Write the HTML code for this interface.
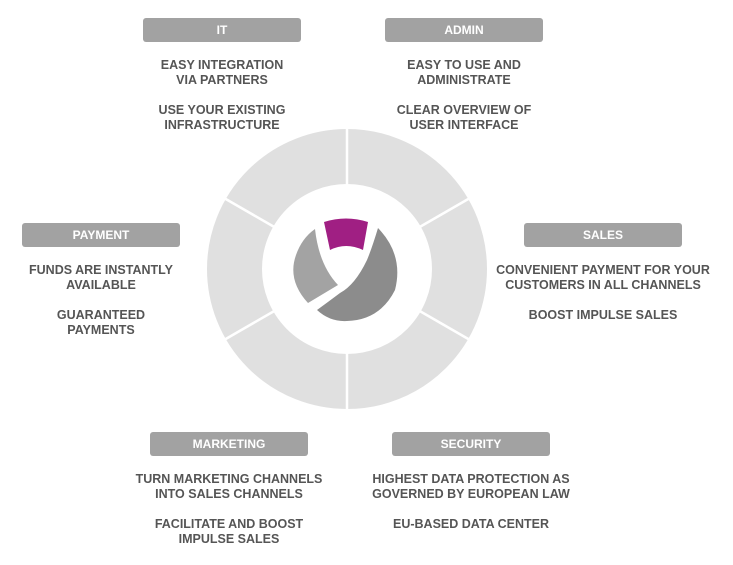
<!DOCTYPE html>
<html><head><style>
body{margin:0;width:733px;height:565px;background:#fff;position:relative;overflow:hidden;font-family:"Liberation Sans",Arial,sans-serif;font-weight:bold;}
.b{position:absolute;width:158px;height:24px;background:#a2a2a2;border-radius:3px;color:#fff;font-size:12px;line-height:24px;text-align:center;}
.t{position:absolute;color:#555;font-size:12.5px;line-height:15px;text-align:center;width:260px;}
</style></head><body>
<svg width="733" height="565" style="position:absolute;left:0;top:0">
<g transform="translate(347,269)">
<circle r="112.5" fill="none" stroke="#e0e0e0" stroke-width="55"/>
<g stroke="#fff" stroke-width="2.5">
<line x1="0" y1="-84" x2="0" y2="-142"/><line x1="0" y1="84" x2="0" y2="142"/>
<line x1="72.7" y1="-42" x2="123" y2="-71"/><line x1="-72.7" y1="-42" x2="-123" y2="-71"/>
<line x1="72.7" y1="42" x2="123" y2="71"/><line x1="-72.7" y1="42" x2="-123" y2="71"/>
</g>
</g>
<path d="M324,222 Q346,215 368,222 L363,250 Q346,242 330,250 Z" fill="#a01f83"/>
<path d="M315,229 Q319,265 338,285 L308,303 Q287,280 296,255 Q302,238 315,229 Z" fill="#a3a3a3"/>
<path d="M378,228 Q372,248 367,260 Q355,285 340,293 Q328,302 317,310 Q330,322 347,321 Q380,320 395,290 Q404,255 378,228 Z" fill="#8c8c8c"/>
</svg>
<div class="b" style="left:143px;top:18px">IT</div>
<div class="b" style="left:385px;top:18px">ADMIN</div>
<div class="b" style="left:22px;top:223px">PAYMENT</div>
<div class="b" style="left:524px;top:223px">SALES</div>
<div class="b" style="left:150px;top:432px">MARKETING</div>
<div class="b" style="left:392px;top:432px">SECURITY</div>
<div class="t" style="left:92px;top:58px">EASY INTEGRATION<br>VIA PARTNERS<br><br>USE YOUR EXISTING<br>INFRASTRUCTURE</div>
<div class="t" style="left:334px;top:58px">EASY TO USE AND<br>ADMINISTRATE<br><br>CLEAR OVERVIEW OF<br>USER INTERFACE</div>
<div class="t" style="left:-29px;top:263px">FUNDS ARE INSTANTLY<br>AVAILABLE<br><br>GUARANTEED<br>PAYMENTS</div>
<div class="t" style="left:473px;top:263px">CONVENIENT PAYMENT FOR YOUR<br>CUSTOMERS IN ALL CHANNELS<br><br>BOOST IMPULSE SALES</div>
<div class="t" style="left:99px;top:472px">TURN MARKETING CHANNELS<br>INTO SALES CHANNELS<br><br>FACILITATE AND BOOST<br>IMPULSE SALES</div>
<div class="t" style="left:341px;top:472px">HIGHEST DATA PROTECTION AS<br>GOVERNED BY EUROPEAN LAW<br><br>EU-BASED DATA CENTER</div>
</body></html>
